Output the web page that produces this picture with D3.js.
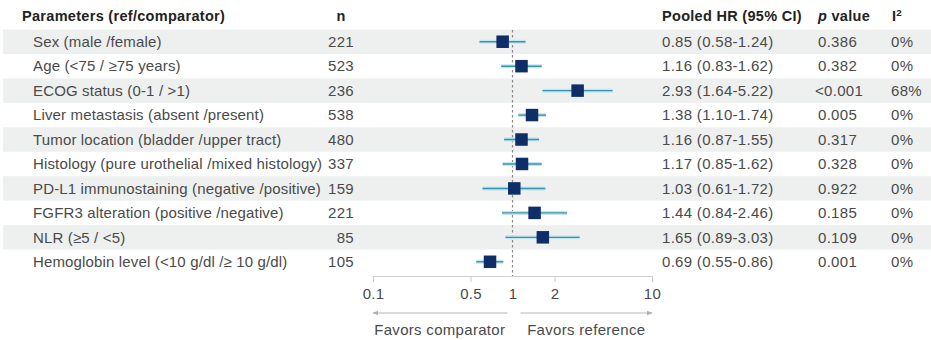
<!DOCTYPE html>
<html lang="en">
<head>
    <meta charset="utf-8">
    <script src="https://d3js.org/d3.v7.min.js"></script>
    <title>Forest plot</title>
    <style>
        body {
            margin: 0;
            padding: 0;
            background: #fff;
            font-family: "Liberation Sans", Arial, sans-serif;
        }
        svg text {
            letter-spacing: 0.3px;
        }
        svg text.param {
            letter-spacing: 0.15px;
        }
    </style>
</head>
<body>
    <svg id="forest" width="931" height="340"></svg>
    <script>

        // data
        var params = [
            "Sex (male /female)",
            "Age (<75 / \u226575 years)",
            "ECOG status (0-1 / >1)",
            "Liver metastasis (absent /present)",
            "Tumor location (bladder /upper tract)",
            "Histology (pure urothelial /mixed histology)",
            "PD-L1 immunostaining (negative /positive)",
            "FGFR3 alteration (positive /negative)",
            "NLR (\u22655 / <5)",
            "Hemoglobin level (<10 g/dl  /\u2265 10 g/dl)"
        ];
        var nPatients = [221, 523, 236, 538, 480, 337, 159, 221, 85, 105];
        var hr = [0.85, 1.16, 2.93, 1.38, 1.16, 1.17, 1.03, 1.44, 1.65, 0.69];
        var ciLow = [0.58, 0.83, 1.64, 1.10, 0.87, 0.85, 0.61, 0.84, 0.89, 0.55];
        var ciHigh = [1.24, 1.62, 5.22, 1.74, 1.55, 1.62, 1.72, 2.46, 3.03, 0.86];
        var pValues = ["0.386", "0.382", "<0.001", "0.005", "0.317", "0.328", "0.922", "0.185", "0.109", "0.001"];
        var i2 = ["0%", "0%", "68%", "0%", "0%", "0%", "0%", "0%", "0%", "0%"];
        var tickValues = [0.1, 0.5, 1, 2, 10];

        var svg = d3.select("#forest"),
            width = +svg.attr("width"),
            height = +svg.attr("height");

        var fs = 15;

        // scales
        var x = d3.scaleLog()
            .domain([0.1, 10])
            .range([373, 652]);

        var y = d3.scaleBand()
            .domain(d3.range(params.length))
            .range([29.5, 274])
            .paddingInner(0);

        var yc = function (i) { return y(i) + y.bandwidth() / 2; };

        // row shading
        svg.append("g")
            .selectAll("rect")
            .data(params)
            .enter()
            .append("rect")
            .attr("x", 3)
            .attr("y", function (d, i) { return y(i); })
            .attr("width", width - 3)
            .attr("height", y.bandwidth())
            .attr("fill", function (d, i) { return i % 2 === 0 ? "#eef0f0" : "none"; });

        // header
        var head = svg.append("g")
            .attr("font-weight", "bold")
            .attr("font-size", fs - 0.5)
            .attr("fill", "#222");
        head.append("text").attr("x", 22).attr("y", 16).attr("dy", "0.35em").text("Parameters (ref/comparator)");
        head.append("text").attr("x", 341).attr("y", 16).attr("dy", "0.35em").attr("text-anchor", "middle").text("n");
        head.append("text").attr("x", 662).attr("y", 16).attr("dy", "0.35em").text("Pooled HR (95% CI)");
        var pv = head.append("text").attr("x", 818).attr("y", 16).attr("dy", "0.35em");
        pv.append("tspan").attr("font-style", "italic").text("p");
        pv.append("tspan").text(" value");
        var ii = head.append("text").attr("x", 892).attr("y", 16).attr("dy", "0.35em");
        ii.append("tspan").text("I");
        ii.append("tspan").attr("font-size", fs * 0.65).attr("dy", "-0.5em").text("2");

        // table text
        var rows = svg.append("g")
            .attr("font-size", fs)
            .attr("fill", "#4a4a4a");

        rows.selectAll(".param")
            .data(params)
            .enter()
            .append("text")
            .attr("class", "param")
            .attr("x", 33)
            .attr("y", function (d, i) { return yc(i); })
            .attr("dy", "0.35em")
            .text(function (d) { return d; });

        rows.selectAll(".n")
            .data(nPatients)
            .enter()
            .append("text")
            .attr("x", 354)
            .attr("y", function (d, i) { return yc(i); })
            .attr("dy", "0.35em")
            .attr("text-anchor", "end")
            .text(function (d) { return d; });

        rows.selectAll(".hr")
            .data(hr)
            .enter()
            .append("text")
            .attr("x", 662)
            .attr("y", function (d, i) { return yc(i); })
            .attr("dy", "0.35em")
            .text(function (d, i) {
                return d.toFixed(2) + " (" + ciLow[i].toFixed(2) + "-" + ciHigh[i].toFixed(2) + ")";
            });

        rows.selectAll(".p")
            .data(pValues)
            .enter()
            .append("text")
            .attr("x", function (d) { return d.charAt(0) === "<" ? 815 : 818; })
            .attr("y", function (d, i) { return yc(i); })
            .attr("dy", "0.35em")
            .text(function (d) { return d; });

        rows.selectAll(".i2")
            .data(i2)
            .enter()
            .append("text")
            .attr("x", 891)
            .attr("y", function (d, i) { return yc(i); })
            .attr("dy", "0.35em")
            .text(function (d) { return d; });

        // reference line at HR = 1
        svg.append("line")
            .attr("x1", x(1)).attr("x2", x(1))
            .attr("y1", 30).attr("y2", 276)
            .attr("stroke", "#888")
            .attr("stroke-width", 1.2)
            .attr("stroke-dasharray", "2.5,2.5");

        // confidence intervals
        var ci = svg.append("g");
        ci.selectAll(".halo")
            .data(hr)
            .enter()
            .append("line")
            .attr("x1", function (d, i) { return x(ciLow[i]); })
            .attr("x2", function (d, i) { return x(ciHigh[i]); })
            .attr("y1", function (d, i) { return yc(i); })
            .attr("y2", function (d, i) { return yc(i); })
            .attr("stroke", "#c6e6ef")
            .attr("stroke-width", 4);
        ci.selectAll(".ci")
            .data(hr)
            .enter()
            .append("line")
            .attr("x1", function (d, i) { return x(ciLow[i]); })
            .attr("x2", function (d, i) { return x(ciHigh[i]); })
            .attr("y1", function (d, i) { return yc(i); })
            .attr("y2", function (d, i) { return yc(i); })
            .attr("stroke", "#3a93ad")
            .attr("stroke-width", 1.4);

        // point estimates
        var sq = 12.5;
        svg.append("g")
            .selectAll("rect")
            .data(hr)
            .enter()
            .append("rect")
            .attr("x", function (d) { return x(d) - sq / 2; })
            .attr("y", function (d, i) { return yc(i) - sq / 2; })
            .attr("width", sq)
            .attr("height", sq)
            .attr("fill", "#0f2d66");

        // x axis
        var axis = svg.append("g")
            .attr("transform", "translate(0,276)")
            .call(d3.axisBottom(x)
                .tickValues(tickValues)
                .tickFormat(function (d) { return String(d); })
                .tickSize(6)
                .tickPadding(6));
        axis.select(".domain").attr("stroke", "#d0d0d0");
        axis.selectAll(".tick line").attr("stroke", "#c8c8c8");
        axis.selectAll(".tick").filter(function (d) { return d === 1; }).select("line").remove();
        axis.selectAll("text")
            .attr("font-family", "Liberation Sans, Arial, sans-serif")
            .attr("font-size", fs)
            .attr("fill", "#4a4a4a");

        // favors arrows
        var defs = svg.append("defs");
        defs.append("marker")
            .attr("id", "arr")
            .attr("viewBox", "0 0 10 10")
            .attr("refX", 9).attr("refY", 5)
            .attr("markerWidth", 5).attr("markerHeight", 5)
            .attr("orient", "auto-start-reverse")
            .append("path")
            .attr("d", "M0,1 L10,5 L0,9 Z")
            .attr("fill", "#b0b0b0");

        svg.append("line")
            .attr("x1", x(1) - 5).attr("x2", x(0.1))
            .attr("y1", 313).attr("y2", 313)
            .attr("stroke", "#b8b8b8").attr("stroke-width", 1.2)
            .attr("marker-end", "url(#arr)");
        svg.append("line")
            .attr("x1", x(1) + 8).attr("x2", x(10))
            .attr("y1", 313).attr("y2", 313)
            .attr("stroke", "#b8b8b8").attr("stroke-width", 1.2)
            .attr("marker-end", "url(#arr)");

        svg.append("text")
            .attr("x", (x(0.1) + x(1)) / 2 - 3)
            .attr("y", 330)
            .attr("dy", "0.35em")
            .attr("text-anchor", "middle")
            .attr("font-size", fs)
            .attr("fill", "#4a4a4a")
            .text("Favors comparator");
        svg.append("text")
            .attr("x", (x(1) + x(10)) / 2 + 4)
            .attr("y", 330)
            .attr("dy", "0.35em")
            .attr("text-anchor", "middle")
            .attr("font-size", fs)
            .attr("fill", "#4a4a4a")
            .text("Favors reference");

    </script>
</body>
</html>
